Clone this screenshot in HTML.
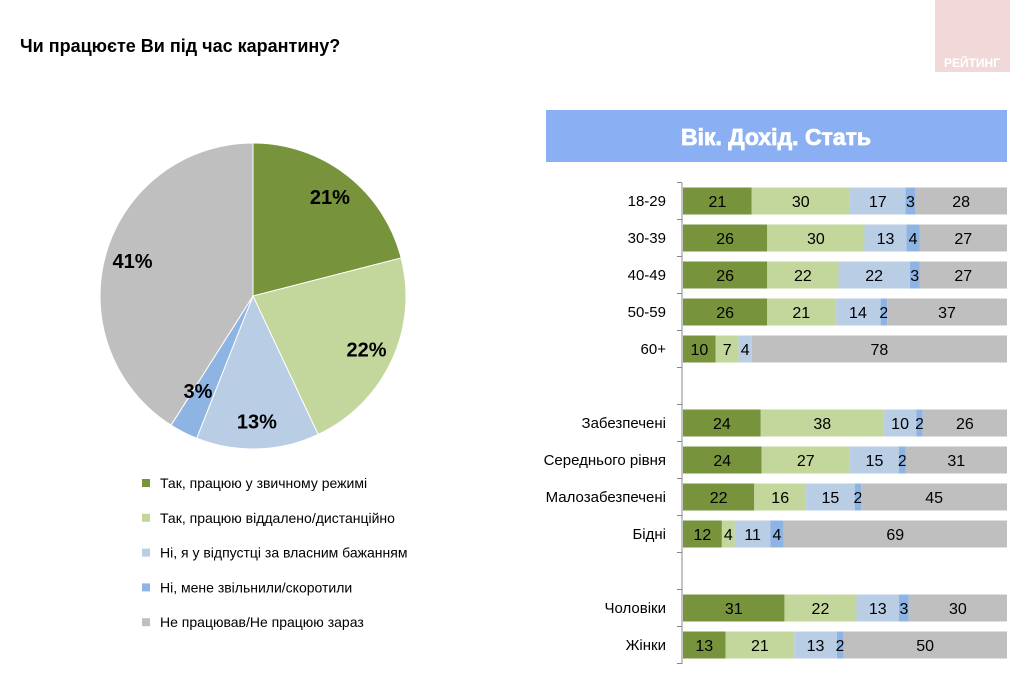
<!DOCTYPE html>
<html><head><meta charset="utf-8"><style>
body{margin:0;width:1028px;height:678px;background:#fff;font-family:"Liberation Sans",sans-serif;overflow:hidden;position:relative}
</style></head><body>
<svg width="1028" height="678" style="position:absolute;left:0;top:0">
<rect x="935" y="0" width="75" height="72" fill="#f2d9d9"/>
<text x="972" y="67" font-size="12" font-weight="bold" fill="#fff" text-anchor="middle">РЕЙТИНГ</text>
<text x="20" y="52" font-size="18" font-weight="bold" fill="#000">Чи працюєте Ви під час карантину?</text>
<rect x="546" y="110" width="461" height="52" fill="#8aaff3"/>
<text x="776" y="145" font-size="23" font-weight="bold" fill="#fff" text-anchor="middle" stroke="#fff" stroke-width="0.8">Вік. Дохід. Стать</text>
<g id="pie"></g><g id="pielabels"></g><g id="legend"></g><g id="bars"></g>
</svg>
<script>
const pieLabels=["Так, працюю у звичному режимі","Так, працюю віддалено/дистанційно","Ні, я у відпустці за власним бажанням","Ні, мене звільнили/скоротили","Не працював/Не працюю зараз"];
const pieValues=[21,22,13,3,41];
const colors=["#77933c","#c3d69b","#b9cde5","#8eb4e3","#bfbfbf"];
const categories=["18-29","30-39","40-49","50-59","60+",null,"Забезпечені","Середнього рівня","Малозабезпечені","Бідні",null,"Чоловіки","Жінки"];
const s1=[21,26,26,26,10,null,24,24,22,12,null,31,13];
const s2=[30,30,22,21,7,null,38,27,16,4,null,22,21];
const s3=[17,13,22,14,4,null,10,15,15,11,null,13,13];
const s4=[3,4,3,2,0,null,2,2,2,4,null,3,2];
const s5=[28,27,27,37,78,null,26,31,45,69,null,30,50];
const NS="http://www.w3.org/2000/svg";
function mk(t,a,p){const e=document.createElementNS(NS,t);for(const k in a)e.setAttribute(k,a[k]);p.appendChild(e);return e;}
// pie
const pg=document.getElementById('pie');const plg=document.getElementById('pielabels');const cx=253,cy=296,r=153;
const tot=pieValues.reduce((a,b)=>a+b,0);let acc=0;
pieValues.forEach((v,i)=>{const a0=acc/tot*2*Math.PI-Math.PI/2;acc+=v;const a1=acc/tot*2*Math.PI-Math.PI/2;
const large=(a1-a0)>Math.PI?1:0;
const p=mk('path',{d:`M${cx},${cy}L${cx+r*Math.cos(a0)},${cy+r*Math.sin(a0)}A${r},${r} 0 ${large} 1 ${cx+r*Math.cos(a1)},${cy+r*Math.sin(a1)}Z`,fill:colors[i],stroke:'#fff','stroke-width':1},pg);

const am=(a0+a1)/2;const rr=r*0.82;
let lx=cx+rr*Math.cos(am),ly=cy+rr*Math.sin(am);
if(i==3){lx=cx+r*0.72*Math.cos(am)-5;ly=cy+r*0.72*Math.sin(am)-3;}
const t=mk('text',{x:lx,y:ly+7,'font-size':20,'font-weight':'bold','text-anchor':'middle'},plg);
t.textContent=v+'%';});
const lg=document.getElementById('legend');
pieLabels.forEach((l,i)=>{const y=483+i*34.8;
const s=mk('rect',{x:142,y:y-4,width:8,height:8,fill:colors[i]},lg);
const t=mk('text',{x:160,y:y+5,'font-size':14},lg);t.textContent=l;});
// bars
const bg=document.getElementById('bars');const x0=683,W=324,y0=201,step=37,h=27;
const ax=mk('line',{x1:682,y1:183,x2:682,y2:664,stroke:'#888'},bg);
for(let i=0;i<=categories.length;i++){const tk=mk('line',{x1:677,x2:682,y1:y0-step/2+i*step,y2:y0-step/2+i*step,stroke:'#888'},bg);}
const series=[s1,s2,s3,s4,s5];
categories.forEach((c,i)=>{if(c===null)return;const yc=y0+i*step;
const lt=mk('text',{x:666,y:yc+5,'font-size':15,'text-anchor':'end'},bg);lt.textContent=c;
const sum=series.reduce((a,s)=>a+s[i],0);let x=x0;
series.forEach((s,j)=>{const v=s[i];if(!v)return;const w=v/sum*W;
const b=mk('rect',{x:x,y:yc-h/2,width:w,height:h,fill:colors[j]},bg);
const t=mk('text',{x:x+w/2,y:yc+6,'font-size':16,'text-anchor':'middle'},bg);t.textContent=v;
x+=w;});});
</script>
</body></html>
